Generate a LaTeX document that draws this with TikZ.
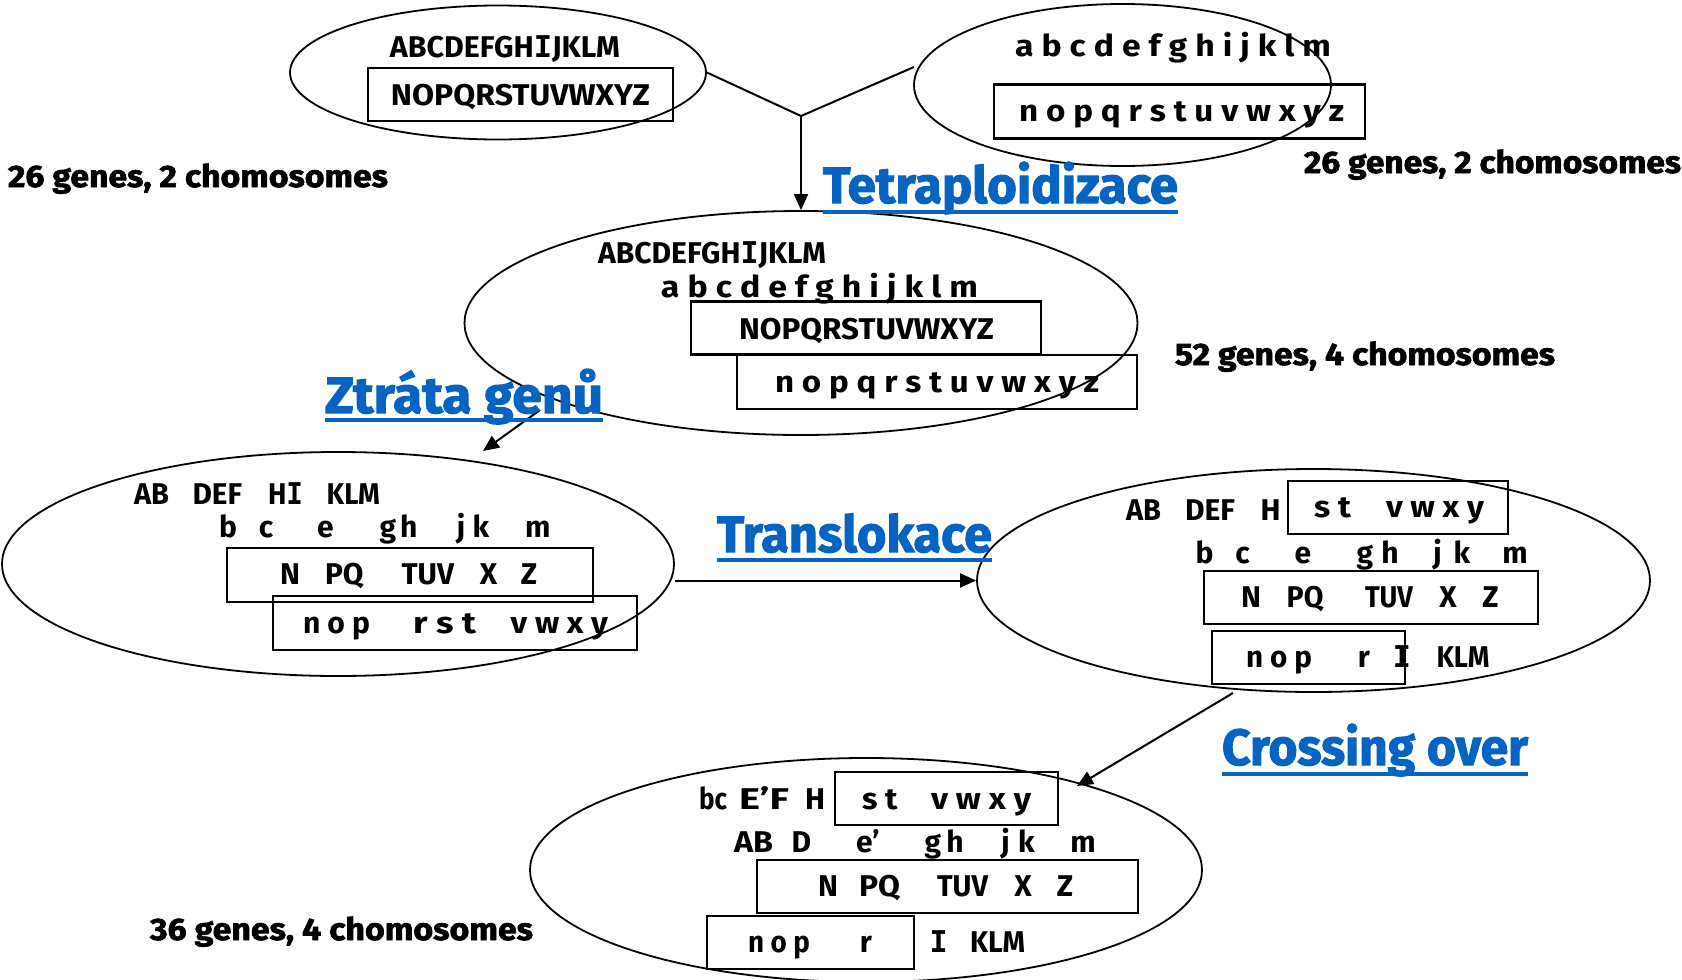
\documentclass[tikz,border=0pt]{standalone}
\usepackage{fontspec}
\setmainfont{Fira Sans}
\newfontfamily\heavy{Fira Sans}[BoldFeatures={FakeBold=2}]
\newfontfamily\monoI{DejaVu Sans Mono}
\usetikzlibrary{arrows.meta,shapes.geometric}
\definecolor{linkblue}{HTML}{0563C1}
\newcommand{\Ii}{{\monoI I}}
\newcommand{\gt}[2]{\ifdim#1pt>0pt\relax\resizebox{#1pt}{\height}{#2}\else#2\fi}
\newcommand{\generow}[3]{%
  \foreach \xa/\xb/\tx [count=\ni] in {#3}{%
    \pgfmathsetmacro\cx{(\xa+\xb)/2}%
    \pgfmathsetmacro\wx{\xb-\xa}%
    \node[gene] (#1-\ni) at (\cx,#2) {\gt{\wx}{\tx}};}}
\tikzset{
  gene/.style={inner sep=0pt, anchor=base, font={\bfseries\fontsize{30}{30}\selectfont}},
  countlbl/.style={inner sep=0pt, anchor=base, font={\heavy\bfseries\fontsize{31}{31}\selectfont}},
  heading/.style={inner sep=0pt, anchor=base, text=linkblue, font={\heavy\bfseries\fontsize{51}{51}\selectfont}},
  cell/.style={ellipse, draw, line width=1.8pt, inner sep=0pt},
  chrom/.style={draw, line width=2.2pt},
  conn/.style={line width=2pt},
  arr/.style={line width=2pt, -{Triangle[length=16pt,width=14pt]}},
  uline/.style={linkblue, line width=4pt}
}
\begin{document}
\begin{tikzpicture}[x=1pt,y=-1pt]
\useasboundingbox (0,0) rectangle (1682,980);
% cells
\node[cell, minimum width=416pt, minimum height=134pt] (e1) at (498,72.5) {};
\node[cell, minimum width=417pt, minimum height=162pt] (e2) at (1122.5,85) {};
\node[cell, minimum width=673pt, minimum height=224pt] (e3) at (801,323) {};
\node[cell, minimum width=672pt, minimum height=224pt] (e4) at (338,564) {};
\node[cell, minimum width=673pt, minimum height=223pt] (e5) at (1313.5,580.5) {};
\node[cell, minimum width=672pt, minimum height=224pt] (e6) at (866,870) {};
% chromosome boxes
\draw[chrom] (368,68) rectangle (673,121);
\draw[chrom] (994,84.5) rectangle (1365,138.5);
\draw[chrom] (691,301.5) rectangle (1041,354.5);
\draw[chrom] (737,355) rectangle (1137,409);
\draw[chrom] (227,548) rectangle (593,602);
\draw[chrom] (273,596) rectangle (637,650);
\draw[chrom] (1288,481) rectangle (1508,534);
\draw[chrom] (1204,571) rectangle (1538,624);
\draw[chrom] (1212,631) rectangle (1405,684);
\draw[chrom] (835,772) rectangle (1058,825);
\draw[chrom] (757,860) rectangle (1138,913);
\draw[chrom] (707,916) rectangle (914,969);
% connectors
\coordinate (j) at (801,116);
\coordinate (e2l) at (914,67);
\draw[conn] (e1.east) -- (j);
\draw[conn] (e2l) -- (j);
\draw[arr] (j) -- (e3.north);
\coordinate (zs) at (540,410);
\coordinate (zt) at (483,451);
\draw[arr] (zs) -- (zt);
\draw[arr] (e4.east |- e5.west) -- (e5.west);
\coordinate (cs) at (1233,693);
\coordinate (ct) at (1077,786);
\draw[arr] (cs) -- (ct);
% gene rows
\generow{t1}{57}{390/620/ABCDEFGH\Ii JKLM}
\generow{t2}{105}{391/650/NOPQRSTUVWXYZ}
\generow{t3}{56}{1015/1331/a b c d e f g h i j k l m}
\generow{t4}{121}{1019/1344/n o p q r s t u v w x y z}
\generow{m1}{263}{598/826/ABCDEFGH\Ii JKLM}
\generow{m2}{297}{661/978/a b c d e f g h i j k l m}
\generow{m3}{339}{739/994/NOPQRSTUVWXYZ}
\generow{m4}{392}{775/1099/n o p q r s t u v w x y z}
\generow{l1}{504}{134/169/AB, 192.5/242/DEF, 268/303/H\Ii, 326.7/380/KLM}
\generow{l2}{537}{228/228/b, 266/266/c, 325.5/325.5/e, 388/388/g, 408.8/408.8/h, 461/461/j, 481/481/k, 537.8/537.8/m}
\generow{l3}{584}{290/290/N, 325/363.5/PQ, 401.6/454/TUV, 488.6/488.6/X, 529/529/Z}
\generow{l4}{633}{303/370/n o p, 413/476/r s t, 510.7/608/v w x y}
\generow{r1}{520}{1126/1161/AB, 1185/1235/DEF, 1270.5/1270.5/H}
\generow{r2}{517}{1314/1351/s t, 1386/1484/v w x y}
\generow{r3}{563}{1204.5/1204.5/b, 1242.5/1242.5/c, 1303/1303/e, 1365/1365/g, 1390/1390/h, 1437.5/1437.5/j, 1462/1462/k, 1515/1515/m}
\generow{r4}{607}{1251/1251/N, 1286.7/1323.5/PQ, 1365/1413/TUV, 1448/1448/X, 1490.5/1490.5/Z}
\generow{r5}{667}{1246/1312/n o p, 1364/1364/r, 1402/1402/\Ii, 1436.5/1489.5/KLM}
\generow{b1}{809}{699/727/bc, 739/789/E'F, 815/815/H}
\generow{b2}{809}{862/897.5/s t, 931/1031/v w x y}
\generow{b3}{852}{734/773/AB, 801.5/801.5/D, 868/868/e', 933/933/g, 955/955/h, 1005.5/1005.5/j, 1026.3/1026.3/k, 1083/1083/m}
\generow{b4}{896}{828/828/N, 859/900/PQ, 937/988/TUV, 1023/1023/X, 1065/1065/Z}
\generow{b5}{952}{748/810/n o p, 866/866/r, 938.6/938.6/\Ii, 970/1025/KLM}
% counts
\node[countlbl] (c1) at (198,187) {\gt{380}{26 genes, 2 chomosomes}};
\node[countlbl] (c2) at (1492.5,173) {\gt{377}{26 genes, 2 chomosomes}};
\node[countlbl] (c3) at (1365,365) {\gt{380}{52 genes, 4 chomosomes}};
\node[countlbl] (c4) at (341.5,940) {\gt{383}{36 genes, 4 chomosomes}};
% headings
\node[heading] (h1) at (1000.5,203) {\gt{355}{Tetraploidizace}};
\node[heading] (h2) at (464,413) {\gt{278}{Ztráta genů}};
\node[heading] (h3) at (854.5,552) {\gt{275}{Translokace}};
\node[heading] (h4) at (1375,765) {\gt{306}{Crossing over}};
\draw[uline] ([yshift=-9pt]h1.base west) -- ([yshift=-9pt]h1.base east);
\draw[uline] ([yshift=-7pt]h2.base west) -- ([yshift=-7pt]h2.base east);
\draw[uline] ([yshift=-8pt]h3.base west) -- ([yshift=-8pt]h3.base east);
\draw[uline] ([yshift=-9pt]h4.base west) -- ([yshift=-9pt]h4.base east);
\end{tikzpicture}
\end{document}
